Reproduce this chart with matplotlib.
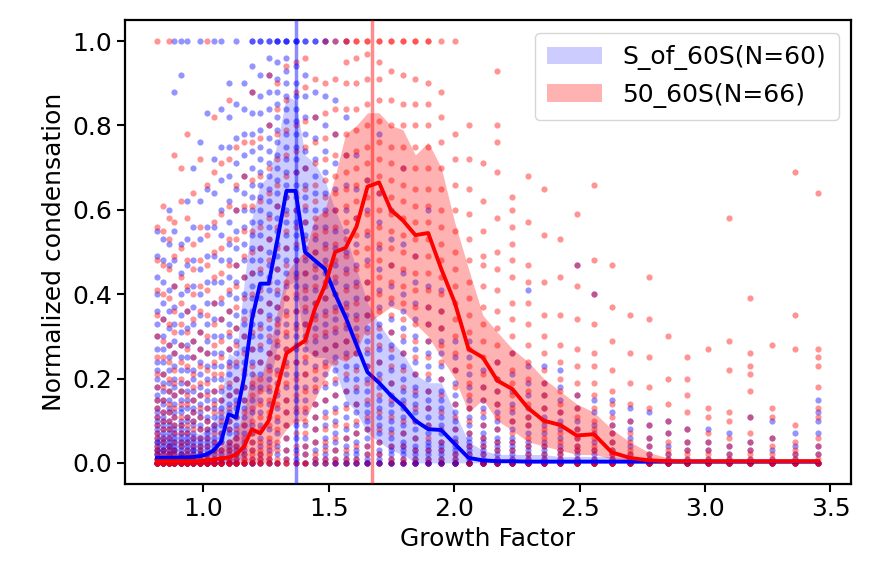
import numpy as np
import matplotlib
matplotlib.use("Agg")
import matplotlib.pyplot as plt

# ---- data ----
growth_bins = [0.815, 0.838, 0.861, 0.884, 0.909, 0.934, 0.960, 0.986, 1.013, 1.041,
               1.070, 1.100, 1.130, 1.161, 1.193, 1.226, 1.260, 1.295, 1.331, 1.367,
               1.405, 1.444, 1.484, 1.525, 1.567, 1.610, 1.654, 1.700, 1.747, 1.795,
               1.845, 1.896, 1.948, 2.002, 2.057, 2.114, 2.172, 2.232, 2.294, 2.357,
               2.422, 2.488, 2.557, 2.628, 2.700, 2.775, 2.851, 2.930, 3.011, 3.094,
               3.179, 3.267, 3.358, 3.450]

blue_mean = [0.012, 0.012, 0.012, 0.012, 0.013, 0.013, 0.014, 0.016, 0.020, 0.030,
             0.050, 0.115, 0.108, 0.200, 0.340, 0.425, 0.425, 0.530, 0.645, 0.645,
             0.500, 0.480, 0.460, 0.400, 0.345, 0.280, 0.215, 0.190, 0.160, 0.135,
             0.100, 0.080, 0.078, 0.045, 0.012, 0.006, 0.004, 0.004, 0.003, 0.003,
             0.003, 0.003, 0.003, 0.003, 0.003, 0.003, 0.003, 0.003, 0.003, 0.003,
             0.003, 0.003, 0.003, 0.003]
blue_low = [0.0, 0.0, 0.0, 0.0, 0.0, 0.0, 0.0, 0.0, 0.0, 0.0,
            0.0, 0.0, 0.0, 0.02, 0.10, 0.17, 0.17, 0.28, 0.42, 0.43,
            0.27, 0.25, 0.25, 0.22, 0.15, 0.12, 0.07, 0.05, 0.03, 0.02,
            0.0, 0.0, 0.0, 0.0, 0.0, 0.0, 0.0, 0.0, 0.0, 0.0,
            0.0, 0.0, 0.0, 0.0, 0.0, 0.0, 0.0, 0.0, 0.0, 0.0,
            0.0, 0.0, 0.0, 0.0]
blue_high = [0.07, 0.07, 0.07, 0.07, 0.07, 0.07, 0.07, 0.07, 0.08, 0.10,
             0.15, 0.26, 0.25, 0.42, 0.58, 0.66, 0.68, 0.76, 0.87, 0.86,
             0.73, 0.71, 0.67, 0.60, 0.54, 0.46, 0.38, 0.33, 0.29, 0.26,
             0.21, 0.19, 0.19, 0.12, 0.05, 0.03, 0.02, 0.02, 0.02, 0.02,
             0.015, 0.015, 0.015, 0.015, 0.01, 0.01, 0.01, 0.01, 0.01, 0.01,
             0.01, 0.01, 0.01, 0.01]

red_mean = [0.004, 0.004, 0.004, 0.004, 0.004, 0.004, 0.004, 0.004, 0.006, 0.008,
            0.011, 0.013, 0.020, 0.038, 0.080, 0.070, 0.100, 0.180, 0.260, 0.275,
            0.290, 0.365, 0.420, 0.500, 0.510, 0.560, 0.655, 0.665, 0.600, 0.575,
            0.540, 0.545, 0.460, 0.380, 0.270, 0.250, 0.195, 0.175, 0.130, 0.100,
            0.090, 0.065, 0.068, 0.025, 0.012, 0.006, 0.004, 0.004, 0.004, 0.004,
            0.004, 0.004, 0.004, 0.004]
red_low = [0.0, 0.0, 0.0, 0.0, 0.0, 0.0, 0.0, 0.0, 0.0, 0.0,
           0.0, 0.0, 0.0, 0.0, 0.0, 0.0, 0.0, 0.05, 0.08, 0.10,
           0.10, 0.15, 0.20, 0.25, 0.24, 0.26, 0.33, 0.35, 0.37, 0.36,
           0.33, 0.30, 0.25, 0.20, 0.12, 0.15, 0.10, 0.077, 0.05, 0.04,
           0.03, 0.02, 0.02, 0.01, 0.0, 0.0, 0.0, 0.0, 0.0, 0.0,
           0.0, 0.0, 0.0, 0.0]
red_high = [0.02, 0.02, 0.02, 0.02, 0.02, 0.02, 0.02, 0.02, 0.025, 0.03,
            0.04, 0.05, 0.07, 0.12, 0.22, 0.20, 0.26, 0.36, 0.45, 0.48,
            0.50, 0.58, 0.60, 0.68, 0.78, 0.80, 0.83, 0.83, 0.80, 0.79,
            0.73, 0.76, 0.70, 0.57, 0.46, 0.35, 0.31, 0.27, 0.24, 0.20,
            0.17, 0.14, 0.12, 0.08, 0.05, 0.025, 0.012, 0.008, 0.006, 0.006,
            0.006, 0.006, 0.006, 0.006]

# individual samples per growth-factor bin, in percent of normalized condensation
blue_points = [
    "0 0 0 0 0 0 1 1 2 2 3 3 4 5 5 6 7 8 9 10 11 12 13 15 16 18 20 22 24 27 30 33 36 40 44 49 55",
    "0 0 0 0 0 0 1 1 2 3 3 4 5 6 7 8 9 10 11 12 14 15 17 19 21 24 27 30 34 38 43 48 53",
    "0 0 0 0 0 0 1 1 2 2 3 4 4 5 6 7 8 9 10 12 13 15 17 19 22 25 28 32 36 41 47 52 60",
    "0 0 0 0 0 0 1 1 2 3 3 4 5 6 7 8 9 11 12 14 16 18 20 23 26 29 33 37 42 48 55 88 100",
    "0 0 0 0 0 0 1 2 2 3 4 5 6 7 8 9 10 12 13 15 17 19 22 25 28 31 35 40 45 52 92 100",
    "0 0 0 0 0 0 1 1 2 3 4 5 6 7 8 10 11 13 15 17 19 22 25 28 32 36 41 47 53 62 100",
    "0 0 0 0 0 0 1 2 3 3 4 5 6 7 9 10 12 13 15 17 20 22 25 29 33 37 42 48 56 70",
    "0 0 0 0 0 0 1 2 2 3 4 5 6 8 9 11 12 14 16 18 21 24 27 31 35 40 46 53 62 76 100",
    "0 0 0 0 0 0 1 2 3 4 5 6 7 8 10 11 13 15 17 20 23 26 29 33 38 43 49 56 65 83",
    "0 0 0 0 0 0 1 2 3 4 5 6 8 9 11 13 15 17 20 23 26 30 34 38 43 49 56 64 72 100",
    "0 0 0 0 0 1 1 2 3 5 6 7 9 11 13 15 17 20 23 26 30 34 38 43 48 54 60 67 75 84 100",
    "0 0 0 0 1 2 3 4 5 7 8 10 12 14 16 18 21 24 27 30 33 36 40 44 48 52 57 62 68 75 82 90",
    "0 0 0 0 1 2 3 4 6 7 9 11 13 15 17 20 23 26 29 32 35 39 43 47 51 55 60 65 71 77 85 100",
    "0 0 0 1 2 3 5 7 9 11 13 15 18 21 24 27 30 33 36 40 44 48 52 56 60 64 68 73 78 84 90",
    "0 0 0 1 3 5 7 9 12 15 18 21 24 27 30 33 36 39 42 45 48 51 54 57 60 63 66 70 74 78 83 88 94 100 100",
    "0 0 1 2 4 6 9 12 15 18 21 24 27 30 33 36 39 42 45 48 51 54 57 60 63 66 69 72 75 79 83 87 92 100 100",
    "0 0 1 3 5 8 11 14 17 20 23 26 29 32 35 38 41 44 47 50 53 56 59 62 65 68 71 74 77 80 84 88 92 96 100 100",
    "0 0 2 4 7 10 13 16 19 22 25 28 31 34 37 40 43 46 49 52 55 58 61 64 67 70 73 76 79 82 85 88 91 95 100 100 100",
    "0 1 3 6 9 12 15 18 21 24 27 30 33 36 39 42 45 48 51 54 57 60 63 66 69 72 75 78 81 84 87 90 93 96 100 100 100",
    "0 1 3 6 9 12 15 18 21 24 27 30 33 36 39 42 45 48 51 54 57 60 63 66 69 72 75 78 81 84 87 90 94 100 100 100",
    "0 0 2 4 6 9 12 15 18 21 24 27 30 33 36 39 42 45 48 51 54 57 60 63 66 70 74 78 82 87 92 100 100",
    "0 0 1 3 5 8 11 14 17 20 23 26 29 32 35 38 41 44 47 50 53 56 60 64 68 72 77 82 88 100 100",
    "0 0 1 2 4 6 9 12 15 18 21 24 27 30 33 36 39 42 45 48 52 56 60 64 69 74 80 87 100 100",
    "0 0 0 1 3 5 7 10 13 16 19 22 25 28 31 34 37 40 43 47 51 55 60 65 71 78 86 100",
    "0 0 0 1 2 4 6 8 11 14 17 20 23 26 29 32 35 38 42 46 50 55 60 66 73 82 100",
    "0 0 0 1 2 3 5 7 9 12 14 17 20 23 26 29 32 35 39 43 47 52 58 65 73",
    "0 0 0 0 1 2 4 6 8 10 12 14 17 20 23 26 29 32 35 39 43 48 54 60 67",
    "0 0 0 0 1 2 3 5 7 9 11 13 15 18 21 24 27 30 33 37 41 46 51 57 64 78",
    "0 0 0 0 1 2 3 4 6 8 10 12 14 16 19 22 25 28 31 34 38 42 47 53 60",
    "0 0 0 0 1 2 3 4 5 7 9 11 13 15 17 20 23 26 29 32 36 40 45 52 70",
    "0 0 0 0 0 1 2 3 4 6 8 10 12 14 16 18 21 24 27 30 34 38 43 49",
    "0 0 0 0 0 1 2 3 4 5 7 9 11 13 15 17 20 23 26 29 33 37 42 60",
    "0 0 0 0 0 1 2 3 4 5 7 9 11 13 15 17 20 23 26 29 32 36 41",
    "0 0 0 0 0 0 1 2 3 4 5 6 8 10 12 14 16 19 22 25 29",
    "0 0 0 0 0 0 1 2 3 4 5 6 7 9 11 13 15 18 21 25 29",
    "0 0 0 0 0 0 1 2 3 4 5 6 7 9 11 13 15 18 22",
    "0 0 0 0 0 0 1 2 3 4 5 6 8 10 12 14 17 20 24",
    "0 0 0 0 0 0 1 2 3 4 5 6 8 10 12 14 17 21 26",
    "0 0 0 0 0 0 1 2 3 4 5 7 9 11 13 16 19 23 41",
    "0 0 0 0 0 0 1 2 3 4 5 7 9 11 13 16 19 23",
    "0 0 0 0 0 0 1 2 3 4 6 8 10 12 15 18 22",
    "0 0 0 0 0 0 1 2 3 4 6 8 10 13 16 47",
    "0 0 0 0 0 0 1 2 3 5 7 9 12 15 40",
    "0 0 0 0 0 1 2 3 5 7 9 12 15",
    "0 0 0 0 0 1 2 4 6 8 10 13",
    "0 0 0 0 0 1 2 4 6 9 12",
    "0 0 0 0 0 1 2 4 7 10",
    "0 0 0 0 0 1 3 5 8",
    "0 0 0 0 1 3 5 8",
    "0 0 0 0 1 2 4 7",
    "0 0 0 0 1 3 5 11",
    "0 0 0 0 1 3 6 10",
    "0 0 0 0 1 2 4 7",
    "0 0 0 0 2 4 7 10 12 15",
]

red_points = [
    "0 0 0 0 1 2 3 4 6 7 9 11 13 15 18 21 25 30 35 41 48 56 100",
    "0 0 0 0 1 2 3 5 6 8 10 12 15 18 21 25 29 34 40 47 55 61",
    "0 0 0 0 1 2 3 4 6 8 10 12 14 17 20 24 28 33 39 46 53 58 100",
    "0 0 0 0 1 2 3 5 7 9 11 13 16 19 22 26 31 36 42 49 57 73",
    "0 0 0 0 1 2 4 5 7 9 11 14 17 20 24 28 33 38 44 51 62 70",
    "0 0 0 0 1 2 3 5 7 9 11 14 16 19 23 27 31 36 42 48 58 78",
    "0 0 0 0 1 2 4 6 8 10 12 15 18 21 25 29 34 40 46 52 64",
    "0 0 0 0 1 3 4 6 8 11 13 16 19 23 27 31 36 42 48 56 72",
    "0 0 0 0 1 2 4 6 8 10 13 16 19 22 26 30 35 41 47 54 66 100",
    "0 0 0 0 1 3 5 7 9 12 14 17 21 24 28 33 38 44 50 57 69 82",
    "0 0 0 0 1 3 5 7 10 12 15 18 21 25 29 34 39 45 51 59 71",
    "0 0 0 0 1 3 5 8 10 13 16 19 23 27 31 36 41 47 53 61 72 86",
    "0 0 0 1 2 4 6 8 11 14 17 20 24 28 32 37 42 47 53 60 66 75",
    "0 0 0 1 2 4 6 9 12 15 18 22 26 30 34 39 44 49 55 61 68 76",
    "0 0 1 2 3 5 7 10 13 16 19 23 27 31 35 40 45 50 55 61 67 76 88",
    "0 0 1 2 3 5 8 11 14 17 20 24 28 32 36 41 46 51 56 62 68 77",
    "0 0 1 2 4 6 9 12 15 18 22 26 30 34 38 43 48 53 58 64 70 80 92",
    "0 0 1 3 5 8 11 14 17 21 25 29 33 37 41 46 51 56 61 66 72 78 84 90",
    "0 0 1 3 6 9 12 15 19 23 27 31 35 39 43 47 51 55 59 63 68 73 79 86 94",
    "0 0 2 4 7 10 13 16 20 24 28 32 36 40 44 48 52 56 60 64 69 74 80 88 95",
    "0 0 2 4 7 10 13 17 21 25 29 33 37 41 45 49 53 57 61 65 70 75 81 89 96",
    "0 1 2 5 8 11 14 18 22 26 30 34 38 42 46 50 54 58 62 66 71 76 82 91",
    "0 1 3 5 8 11 15 19 23 27 31 35 39 43 47 51 55 59 63 67 72 77 83 90 100",
    "0 1 3 6 9 12 16 20 24 28 32 36 40 44 48 52 56 60 64 68 73 78 84 91 100",
    "0 1 3 6 9 13 17 21 25 29 33 37 41 45 49 53 57 61 65 69 73 78 84 90 95 100 100",
    "0 1 4 7 10 14 18 22 26 30 34 38 42 46 50 54 58 62 66 70 74 79 84 90 96 100 100",
    "0 2 4 8 11 15 19 23 27 31 35 39 43 47 51 55 59 63 67 71 75 80 85 91 97 100 100",
    "0 2 5 8 12 16 20 24 28 32 36 40 44 48 52 56 60 64 68 72 76 81 86 91 95 100 100",
    "0 1 4 7 11 15 19 23 27 31 35 39 43 47 51 55 59 63 67 71 75 80 86 93 100 100",
    "0 1 4 7 10 14 18 22 26 30 34 38 42 46 50 54 58 62 66 70 75 80 85 92 100 100",
    "0 1 3 6 10 13 17 21 25 29 33 37 41 45 49 53 57 61 65 70 75 80 85 91 100 100",
    "0 1 3 6 9 13 17 21 25 29 33 37 41 45 49 53 57 61 65 70 75 80 85 90 100 100",
    "0 1 3 5 8 12 16 20 24 28 32 36 40 44 48 52 56 60 65 70 76 82 88 100",
    "0 1 2 5 8 11 14 18 22 26 30 34 38 42 46 50 55 60 66 72 78 100",
    "0 0 2 4 7 10 13 16 19 23 27 31 35 39 43 48 53 59 65 72 80",
    "0 0 2 4 6 9 12 15 18 21 25 29 33 37 42 47 49 55 62 71",
    "0 0 1 3 5 8 11 14 17 20 24 28 32 36 41 46 50 58 69 76 80 93",
    "0 0 1 3 5 7 10 13 16 19 22 26 30 34 38 44 48 52 56 60 63",
    "0 0 1 2 4 6 9 11 14 17 20 24 28 33 38 43 47 57 68",
    "0 0 1 2 4 6 8 10 13 16 19 22 26 30 35 43 54 65",
    "0 0 1 2 3 5 7 9 12 14 17 20 24 28 35 44 53",
    "0 0 0 1 3 4 6 8 11 13 16 19 23 27 34 42 47 59",
    "0 0 0 1 3 4 6 8 10 13 16 19 23 26 33 40 48 66",
    "0 0 0 1 2 3 5 7 9 11 14 17 22 29 37 47",
    "0 0 0 1 2 3 5 7 10 14 19 26 35",
    "0 0 0 1 2 4 6 9 13 18 25 34 44",
    "0 0 0 1 2 3 5 7 10 14 20 30",
    "0 0 0 1 2 3 5 8 12 16 20 25",
    "0 0 0 1 2 3 5 7 11 13 27",
    "0 0 0 1 2 4 6 10 12 22 29 58",
    "0 0 0 1 2 3 5 7 11 17 21 23 26 39",
    "0 0 0 1 2 4 6 11 13 28",
    "0 0 0 1 2 3 5 9 27 35 69",
    "0 0 0 1 2 4 6 11 13 18 23 25 27 64",
]

peak_blue = 1.37
peak_red = 1.67
label_blue = "S_of_60S(N=60)"
label_red = "50_60S(N=66)"


def expand(points):
    xs, ys = [], []
    for xb, s in zip(growth_bins, points):
        vals = [int(v) / 100.0 for v in s.split()]
        xs.extend([xb] * len(vals))
        ys.extend(vals)
    return np.array(xs), np.array(ys)


FS = 18
fig = plt.figure(figsize=(8.74, 5.62), dpi=100)
ax = fig.add_axes([0.143, 0.1388, 0.8307, 0.8256])

bx, by = expand(blue_points)
rx, ry = expand(red_points)
ax.scatter(bx, by, s=20, color="blue", alpha=0.42, linewidths=0, zorder=2)
ax.scatter(rx, ry, s=20, color="red", alpha=0.42, linewidths=0, zorder=2)

hb = ax.fill_between(growth_bins, blue_low, blue_high, color="blue", alpha=0.2,
                     linewidth=0, label=label_blue, zorder=3)
hr = ax.fill_between(growth_bins, red_low, red_high, color="red", alpha=0.3,
                     linewidth=0, label=label_red, zorder=3)
ax.plot(growth_bins, blue_mean, color="blue", lw=2.8, zorder=4)
ax.plot(growth_bins, red_mean, color="red", lw=2.8, zorder=4)
ax.axvline(peak_blue, color="blue", alpha=0.45, lw=2.5, zorder=4)
ax.axvline(peak_red, color="red", alpha=0.45, lw=2.5, zorder=4)

ax.set_xlim(0.687, 3.582)
ax.set_ylim(-0.05, 1.05)
ax.set_xticks([1.0, 1.5, 2.0, 2.5, 3.0, 3.5])
ax.set_yticks([0.0, 0.2, 0.4, 0.6, 0.8, 1.0])
ax.set_xlabel("Growth Factor", fontsize=FS)
ax.set_ylabel("Normalized condensation", fontsize=FS)
ax.tick_params(labelsize=FS, length=6, width=1.5)
for sp in ax.spines.values():
    sp.set_linewidth(1.6)

leg = ax.legend(handles=[hb, hr], loc="upper right", fontsize=FS,
                handlelength=2.2, borderpad=0.5, labelspacing=0.5)

fig.savefig("out.png", dpi=100)
